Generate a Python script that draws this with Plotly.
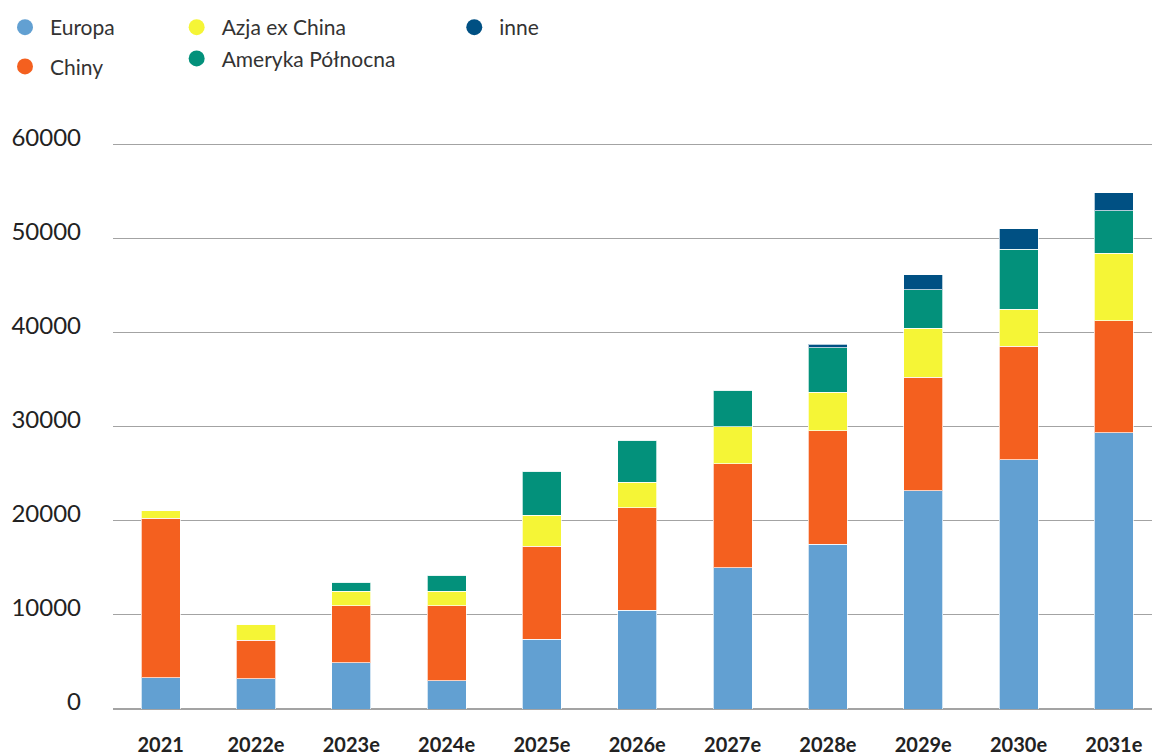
import plotly.graph_objects as go

categories = ["2021", "2022e", "2023e", "2024e", "2025e", "2026e", "2027e", "2028e", "2029e", "2030e", "2031e"]
europa = [3300, 3200, 4900, 3000, 7400, 10500, 15000, 17500, 23200, 26500, 29400]
chiny = [17000, 4100, 6100, 8000, 9900, 10900, 11100, 12100, 12100, 12100, 11900]
azja = [800, 1700, 1500, 1500, 3300, 2700, 3900, 4100, 5200, 3900, 7200]
ameryka = [0, 0, 1000, 1700, 4700, 4500, 3900, 4700, 4100, 6400, 4500]
inne = [0, 0, 0, 100, 0, 0, 0, 400, 1600, 2200, 1900]
y_ticks = [0, 10000, 20000, 30000, 40000, 50000, 60000]

series = [
    ("Europa", europa, "#62a0d2", "legend"),
    ("Chiny", chiny, "#f4601f", "legend"),
    ("Azja ex China", azja, "#f5f536", "legend2"),
    ("Ameryka Północna", ameryka, "#03917b", "legend2"),
    ("inne", inne, "#005083", "legend3"),
]

fig = go.Figure()
for name, vals, col, _ in series:
    fig.add_trace(go.Bar(
        x=categories, y=vals, name=name, marker_color=col,
        marker_line=dict(color="rgba(255,255,255,0.7)", width=1),
        showlegend=False, width=0.41,
    ))
for name, vals, col, lg in series:
    fig.add_trace(go.Scatter(
        x=[None], y=[None], mode="markers", name=name, legend=lg,
        marker=dict(symbol="circle", size=16, color=col), showlegend=True,
        legendgroup=name,
    ))

font_fam = "Lato, 'Open Sans', sans-serif"
legend_common = dict(
    orientation="v", xanchor="left", yanchor="top", yref="container", xref="container",
    font=dict(size=21, color="#333333", family=font_fam), bgcolor="rgba(0,0,0,0)",
    itemwidth=40, itemclick=False, itemdoubleclick=False,
)
ly = 1 - 7 / 755

fig.update_layout(
    width=1152, height=755,
    margin=dict(l=113, r=0, t=143, b=46, autoexpand=False),
    paper_bgcolor="white", plot_bgcolor="white",
    barmode="stack", bargap=0.59,
    font=dict(family=font_fam, size=20, color="#222222"),
    legend=dict(**legend_common, x=0.0, y=ly, tracegroupgap=9),
    legend2=dict(**legend_common, x=0.149, y=ly, tracegroupgap=1),
    legend3=dict(**legend_common, x=0.39, y=ly),
    xaxis=dict(
        type="category", range=[-0.5, 10.4], showgrid=False, showline=False,
        tickfont=dict(size=20, color="#222222", family="Lato, sans-serif", weight="bold"),
        ticklabelstandoff=22, ticks="", tickangle=0,
    ),
    yaxis=dict(
        range=[0, 60200], tickvals=y_ticks, ticktext=[str(v) for v in y_ticks],
        showgrid=True, gridcolor="#a3a3a3", gridwidth=1.3,
        zeroline=True, zerolinecolor="#a3a3a3", zerolinewidth=2,
        showline=False, ticks="", ticklabelstandoff=31, ticklabelshift=-7,
        tickfont=dict(size=24, color="#222222"),
    ),
)

fig.write_html("out.html")
